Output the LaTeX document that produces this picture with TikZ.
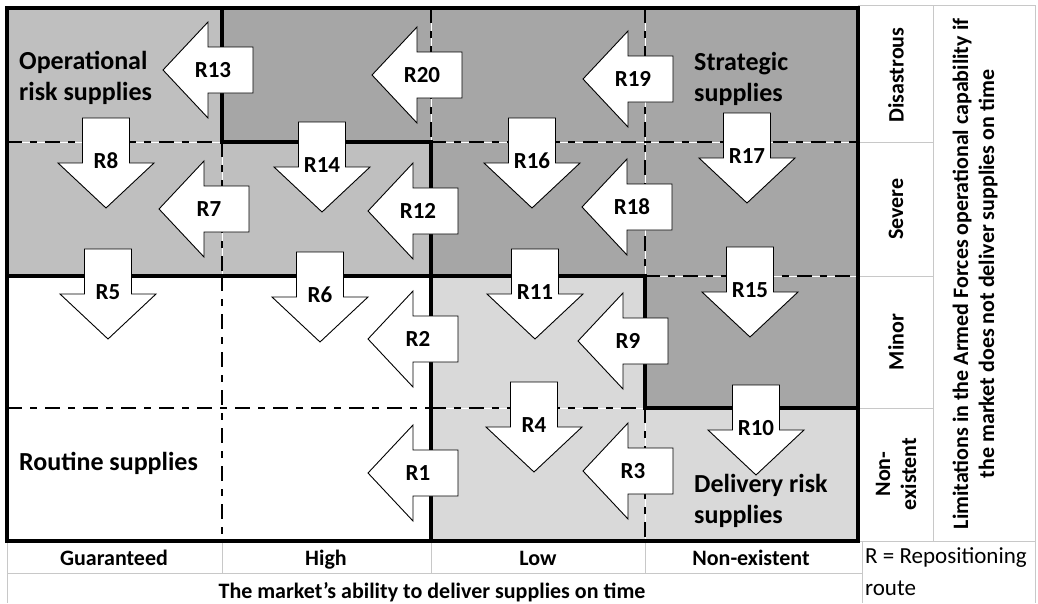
\documentclass[tikz,border=0pt]{standalone}
\usepackage{fontspec}
\setmainfont{Carlito}
\definecolor{opgray}{HTML}{BFBFBF}
\definecolor{stratgray}{HTML}{A6A6A6}
\definecolor{delgray}{HTML}{D9D9D9}
\definecolor{gridgray}{HTML}{C8C8C8}
\newcommand\LArrow[4]{% name, tip x, center y, label
  \draw[arrowbox] (#2,#3) -- ++(45,-48) -- ++(0,25) -- ++(45,0) -- ++(0,46)
    -- ++(-45,0) -- ++(0,25) -- cycle;
  \node[rlabel] (#1) at (#2+50,#3) {#4};
}
\newcommand\DArrow[4]{% name, center x, top y, label
  \draw[arrowbox] (#2-23.5,#3) -- ++(47,0) -- ++(0,45) -- ++(24.5,0)
    -- ++(-48,45) -- ++(-48,-45) -- ++(24.5,0) -- cycle;
  \node[rlabel] (#1) at (#2,#3+43) {#4};
}
\begin{document}
\begin{tikzpicture}[x=1pt,y=-1pt,
  zoneline/.style={line width=4.5pt, line join=miter, line cap=rect},
  dashline/.style={draw=black, line width=2.2pt, dash pattern=on 15pt off 8pt on 7pt off 8pt,
     preaction={draw=white, solid}},
  gridline/.style={draw=gridgray, line width=0.8pt},
  arrowbox/.style={draw=black, fill=white, line width=0.9pt, line join=miter},
  rlabel/.style={inner sep=0pt, font=\fontsize{23pt}{27pt}\selectfont\bfseries},
  zonelabel/.style={inner sep=0pt, anchor=west, align=left, font=\fontsize{26pt}{31pt}\selectfont\bfseries},
  axislabel/.style={inner sep=0pt, align=center, font=\fontsize{22pt}{26pt}\selectfont\bfseries},
  collabel/.style={inner sep=0pt, anchor=base, font=\fontsize{22pt}{26pt}\selectfont\bfseries},
  legendlabel/.style={inner sep=0pt, anchor=west, align=left, font=\fontsize{23pt}{32pt}\selectfont},
]
\useasboundingbox[fill=white] (0,0) rectangle (1038,603);
% zone fills
\fill[opgray] (7,8) rectangle (222,142);
\fill[opgray] (7,142) rectangle (431,276);
\fill[stratgray] (222,8) rectangle (858,142);
\fill[stratgray] (431,142) rectangle (858,276);
\fill[stratgray] (645,276) rectangle (858,408);
\fill[delgray] (431,276) rectangle (645,541);
\fill[delgray] (645,408) rectangle (858,541);
% table grid lines
\draw[gridline] (7,541) -- (7,603);
\draw[gridline] (222,541) -- (222,573);
\draw[gridline] (431,541) -- (431,573);
\draw[gridline] (645,541) -- (645,573);
\draw[gridline] (7,573) -- (862,573);
\draw[gridline] (862,541) -- (862,603);
\draw[gridline] (858,5) -- (1035,5);
\draw[gridline] (933,5) -- (933,541);
\draw[gridline] (1035,5) -- (1035,603);
\draw[gridline] (858,142) -- (933,142);
\draw[gridline] (858,276) -- (933,276);
\draw[gridline] (858,408) -- (933,408);
\draw[gridline] (858,541) -- (1035,541);
% dashed inner lines
\draw[dashline] (7,142) -- (222,142);
\draw[dashline] (222,142) -- (222,276);
\draw[dashline] (431,8) -- (431,142);
\draw[dashline] (645,8) -- (645,276);
\draw[dashline] (431,142) -- (858,142);
\draw[dashline] (645,276) -- (858,276);
\draw[dashline] (222,276) -- (222,541);
\draw[dashline] (7,408) -- (431,408);
\draw[dashline] (431,408) -- (645,408);
\draw[dashline] (645,408) -- (645,541);
% thick zone borders
\draw[zoneline] (222,8) -- (222,142) -- (431,142) -- (431,541);
\draw[zoneline] (7,276) -- (645,276);
\draw[zoneline] (645,276) -- (645,408) -- (858,408);
\draw[zoneline] (7,8) rectangle (858,541);
% arrows
\LArrow{r13}{163}{70}{R13}
\LArrow{r20}{372}{75}{R20}
\LArrow{r19}{583}{79}{R19}
\LArrow{r7}{159}{209}{R7}
\LArrow{r12}{368}{211}{R12}
\LArrow{r18}{582}{207}{R18}
\LArrow{r2}{368}{339}{R2}
\LArrow{r9}{578}{341}{R9}
\LArrow{r1}{368}{473}{R1}
\LArrow{r3}{583}{471}{R3}
\DArrow{r8}{106}{118}{R8}
\DArrow{r14}{322}{122}{R14}
\DArrow{r16}{532}{118}{R16}
\DArrow{r17}{747}{113}{R17}
\DArrow{r5}{108}{249}{R5}
\DArrow{r6}{320}{252}{R6}
\DArrow{r11}{535}{249}{R11}
\DArrow{r15}{750}{247}{R15}
\DArrow{r4}{534}{382}{R4}
\DArrow{r10}{756}{385}{R10}
% zone labels
\node[zonelabel] (oprisk) at (19,78) {Operational\\risk supplies};
\node[zonelabel] (strategic) at (694,79) {Strategic\\supplies};
\node[zonelabel] (routine) at (19,463) {Routine supplies};
\node[zonelabel] (delivery) at (694,501) {Delivery risk\\supplies};
% column labels
\node[collabel] (guaranteed) at (114,565) {Guaranteed};
\node[collabel] (high) at (326,565) {High};
\node[collabel] (low) at (538,565) {Low};
\node[collabel] (nonexcol) at (751,565) {Non-existent};
\node[collabel] (xtitle) at (432,598) {The market’s ability to deliver supplies on time};
% severity labels
\node[axislabel, rotate=90] (disastrous) at (896,75) {Disastrous};
\node[axislabel, rotate=90] (severe) at (896,209) {Severe};
\node[axislabel, rotate=90] (minor) at (896,342) {Minor};
\node[axislabel, rotate=90] (nonexrow) at (896,474) {Non-\\existent};
\node[axislabel, rotate=90] (ytitle) at (975,274) {Limitations in the Armed Forces operational capability if\\the market does not deliver supplies on time};
% legend
\node[legendlabel] (legend) at (865,572) {R = Repositioning\\route};
\end{tikzpicture}
\end{document}
